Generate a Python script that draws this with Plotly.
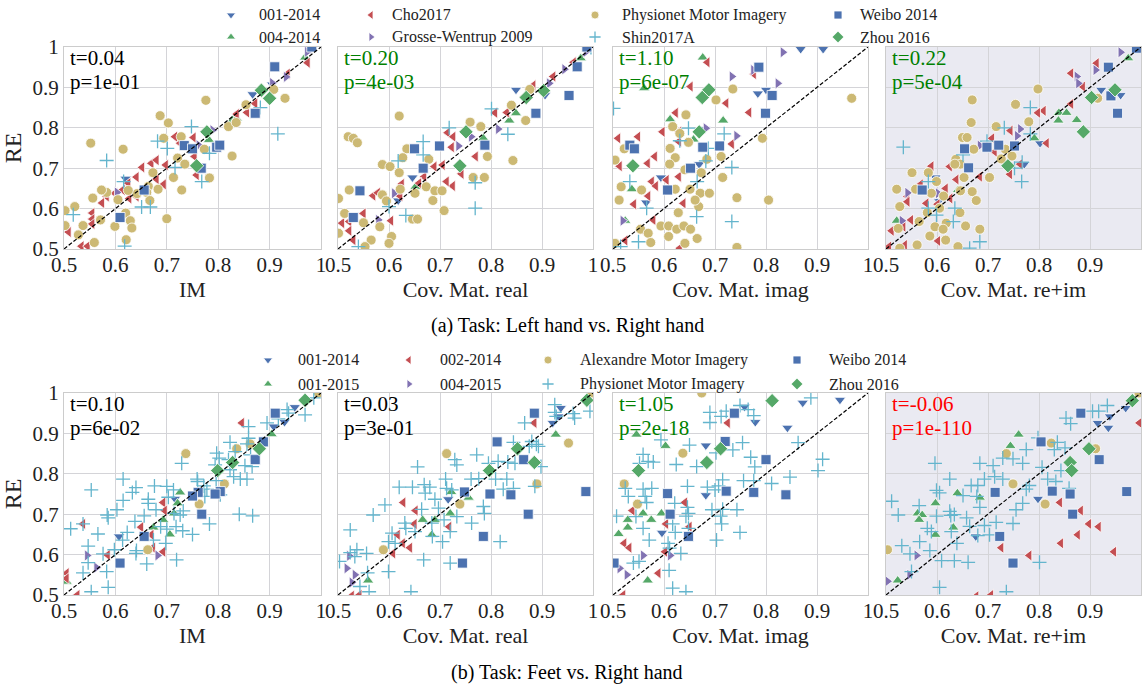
import plotly.graph_objects as go

W, H = 1143, 686
FONT = "Liberation Serif"

# ---------------- names / labels ----------------
TOP_NAMES = ["001-2014", "004-2014", "Cho2017", "Grosse-Wentrup 2009",
             "Physionet Motor Imagery", "Shin2017A", "Weibo 2014", "Zhou 2016"]
BOT_NAMES = ["001-2014", "001-2015", "002-2014", "004-2015",
             "Alexandre Motor Imagery", "Physionet Motor Imagery", "Weibo 2014", "Zhou 2016"]
X_TITLES = ["IM", "Cov. Mat. real", "Cov. Mat. imag", "Cov. Mat. re+im"]
TICK_VALS = [0.5, 0.6, 0.7, 0.8, 0.9, 1.0]
TICK_TEXT = ["0.5", "0.6", "0.7", "0.8", "0.9", "1"]
TOP_STATS = [("t=0.04", "p=1e-01", "black"), ("t=0.20", "p=4e-03", "green"),
             ("t=1.10", "p=6e-07", "green"), ("t=0.22", "p=5e-04", "green")]
BOT_STATS = [("t=0.10", "p=6e-02", "black"), ("t=0.03", "p=3e-01", "black"),
             ("t=1.05", "p=2e-18", "green"), ("t=-0.06", "p=1e-110", "red")]
CAPTIONS = ["(a) Task: Left hand vs. Right hand", "(b) Task: Feet vs. Right hand"]

# ---------------- data: (x, RE) pairs per dataset ----------------
LR_IM = {
    "001-2014": [(0.867, 0.883), (0.905, 0.907), (0.620, 0.674), (0.980, 0.995), (0.795, 0.760)],
    "004-2014": [(0.782, 0.770), (0.828, 0.819), (0.836, 0.823), (0.969, 0.974)],
    "Cho2017": [(0.652, 0.702), (0.670, 0.712), (0.698, 0.708), (0.680, 0.673), (0.694, 0.660),
                (0.641, 0.678), (0.625, 0.663), (0.614, 0.646), (0.627, 0.625), (0.641, 0.630),
                (0.599, 0.638), (0.583, 0.630), (0.574, 0.614), (0.555, 0.589), (0.555, 0.574),
                (0.555, 0.562), (0.509, 0.542), (0.534, 0.507), (0.546, 0.507), (0.716, 0.778),
                (0.752, 0.776), (0.754, 0.729), (0.758, 0.683), (0.872, 0.860), (0.856, 0.838),
                (0.836, 0.834), (0.935, 0.934), (0.974, 0.961), (0.726, 0.762), (0.680, 0.720)],
    "Grosse-Wentrup 2009": [(0.973, 0.988), (0.932, 0.926), (0.905, 0.911), (0.789, 0.794),
                            (0.603, 0.640), (0.762, 0.757)],
    "Physionet Motor Imagery": [
        (0.552, 0.762), (0.615, 0.747), (0.776, 0.868), (0.687, 0.830), (0.703, 0.812),
        (0.694, 0.774), (0.728, 0.778), (0.721, 0.725), (0.713, 0.677), (0.673, 0.689),
        (0.735, 0.710), (0.773, 0.747), (0.783, 0.676), (0.827, 0.730), (0.820, 0.803),
        (0.835, 0.813), (0.854, 0.857), (0.908, 0.895), (0.930, 0.873), (0.664, 0.655),
        (0.683, 0.648), (0.729, 0.646), (0.661, 0.640), (0.642, 0.637), (0.625, 0.645),
        (0.667, 0.620), (0.605, 0.622), (0.583, 0.640), (0.573, 0.646), (0.556, 0.626),
        (0.521, 0.605), (0.502, 0.595), (0.620, 0.589), (0.629, 0.570), (0.632, 0.552),
        (0.599, 0.556), (0.571, 0.572), (0.537, 0.558), (0.502, 0.558), (0.559, 0.516),
        (0.621, 0.523), (0.700, 0.575), (0.528, 0.535)],
    "Shin2017A": [(0.583, 0.719), (0.682, 0.767), (0.701, 0.749), (0.748, 0.803), (0.716, 0.702),
                  (0.783, 0.737), (0.768, 0.667), (0.916, 0.785), (0.882, 0.850), (0.651, 0.604),
                  (0.668, 0.604), (0.518, 0.585), (0.616, 0.667), (0.618, 0.507)],
    "Weibo 2014": [(0.910, 0.951), (0.872, 0.836), (0.734, 0.756), (0.750, 0.748), (0.797, 0.752),
                   (0.803, 0.757), (0.767, 0.700), (0.656, 0.646), (0.609, 0.578), (0.982, 1.0)],
    "Zhou 2016": [(0.884, 0.893), (0.900, 0.873), (0.778, 0.790), (0.758, 0.706)],
}

LR_REAL = {
    "001-2014": [(0.849, 0.894), (0.646, 0.677), (0.989, 0.999), (0.906, 0.881), (0.618, 0.620)],
    "004-2014": [(0.976, 0.972), (0.836, 0.818), (0.849, 0.836), (0.785, 0.774), (0.652, 0.654)],
    "Cho2017": [(0.715, 0.788), (0.726, 0.778), (0.723, 0.752), (0.808, 0.837), (0.831, 0.838),
                (0.770, 0.729), (0.689, 0.704), (0.705, 0.708), (0.742, 0.686), (0.725, 0.656),
                (0.713, 0.667), (0.669, 0.679), (0.659, 0.663), (0.625, 0.661), (0.622, 0.631),
                (0.569, 0.632), (0.578, 0.639), (0.604, 0.570), (0.550, 0.588), (0.522, 0.568),
                (0.522, 0.545), (0.530, 0.522), (0.865, 0.877), (0.922, 0.927), (0.962, 0.962),
                (0.883, 0.905), (0.508, 0.564)],
    "Grosse-Wentrup 2009": [(0.986, 0.988), (0.944, 0.945), (0.914, 0.910), (0.814, 0.797),
                            (0.736, 0.755), (0.761, 0.778), (0.610, 0.638), (0.579, 0.572)],
    "Physionet Motor Imagery": [
        (0.620, 0.829), (0.520, 0.778), (0.530, 0.774), (0.538, 0.763), (0.635, 0.748),
        (0.627, 0.726), (0.587, 0.709), (0.602, 0.704), (0.620, 0.689), (0.678, 0.722),
        (0.759, 0.814), (0.780, 0.803), (0.793, 0.729), (0.843, 0.719), (0.787, 0.677),
        (0.765, 0.677), (0.673, 0.654), (0.690, 0.644), (0.704, 0.644), (0.686, 0.620),
        (0.708, 0.595), (0.651, 0.638), (0.622, 0.648), (0.587, 0.634), (0.595, 0.619),
        (0.522, 0.646), (0.501, 0.625), (0.513, 0.588), (0.550, 0.565), (0.582, 0.555),
        (0.605, 0.531), (0.600, 0.514), (0.565, 0.522), (0.553, 0.506), (0.501, 0.539),
        (0.646, 0.574), (0.656, 0.574), (0.840, 0.856), (0.876, 0.895), (0.868, 0.818)],
    "Shin2017A": [(0.996, 0.999), (0.801, 0.847), (0.718, 0.800), (0.667, 0.766), (0.667, 0.733),
                  (0.833, 0.784), (0.618, 0.718), (0.769, 0.664), (0.769, 0.601), (0.633, 0.583),
                  (0.600, 0.605), (0.540, 0.506)],
    "Weibo 2014": [(0.969, 0.951), (0.953, 0.880), (0.888, 0.836), (0.788, 0.757), (0.699, 0.755),
                   (0.650, 0.748), (0.667, 0.700), (0.543, 0.644), (0.530, 0.578), (0.988, 1.0)],
    "Zhou 2016": [(0.903, 0.892), (0.869, 0.875), (0.751, 0.790), (0.739, 0.706)],
}

LR_IMAG = {
    "001-2014": [(0.868, 0.995), (0.912, 0.995), (0.800, 0.894), (0.784, 0.885), (0.669, 0.710),
                 (0.594, 0.677), (0.565, 0.615), (0.680, 0.797)],
    "004-2014": [(0.676, 0.974), (0.561, 0.898), (0.716, 0.818), (0.612, 0.821), (0.537, 0.648),
                 (0.524, 0.570), (0.658, 0.771)],
    "Cho2017": [(0.685, 0.962), (0.652, 0.902), (0.722, 0.861), (0.767, 0.838), (0.776, 0.933),
                (0.623, 0.837), (0.597, 0.790), (0.629, 0.790), (0.510, 0.774), (0.549, 0.778),
                (0.629, 0.766), (0.711, 0.753), (0.733, 0.760), (0.582, 0.729), (0.568, 0.712),
                (0.513, 0.705), (0.629, 0.679), (0.605, 0.671), (0.576, 0.667), (0.584, 0.656),
                (0.569, 0.631), (0.541, 0.611), (0.638, 0.613), (0.579, 0.572), (0.555, 0.549),
                (0.524, 0.521), (0.631, 0.502)],
    "Grosse-Wentrup 2009": [(0.833, 0.987), (0.733, 0.927), (0.823, 0.910), (0.742, 0.780),
                            (0.682, 0.799), (0.519, 0.570), (0.775, 0.943)],
    "Physionet Motor Imagery": [
        (0.735, 0.896), (0.702, 0.869), (0.968, 0.873), (0.643, 0.832), (0.617, 0.803),
        (0.631, 0.786), (0.648, 0.764), (0.793, 0.774), (0.612, 0.749), (0.522, 0.748),
        (0.622, 0.726), (0.611, 0.710), (0.684, 0.722), (0.712, 0.729), (0.673, 0.689),
        (0.641, 0.696), (0.715, 0.677), (0.504, 0.720), (0.516, 0.654), (0.556, 0.646),
        (0.622, 0.648), (0.651, 0.648), (0.671, 0.638), (0.689, 0.638), (0.512, 0.621),
        (0.743, 0.627), (0.805, 0.621), (0.668, 0.605), (0.628, 0.590), (0.594, 0.557),
        (0.609, 0.557), (0.625, 0.549), (0.639, 0.557), (0.652, 0.549), (0.554, 0.549),
        (0.569, 0.539), (0.609, 0.531), (0.574, 0.516), (0.665, 0.526), (0.641, 0.514),
        (0.504, 0.514), (0.743, 0.504), (0.661, 0.621)],
    "Shin2017A": [(0.501, 0.848), (0.648, 0.799), (0.631, 0.768), (0.718, 0.785), (0.682, 0.718),
                  (0.733, 0.702), (0.665, 0.667), (0.533, 0.667), (0.566, 0.601), (0.664, 0.580),
                  (0.733, 0.568), (0.550, 0.518), (0.515, 0.506), (0.687, 0.749)],
    "Weibo 2014": [(0.786, 0.950), (0.812, 0.880), (0.799, 0.836), (0.533, 0.757), (0.542, 0.748),
                   (0.676, 0.752), (0.709, 0.755), (0.652, 0.700), (0.607, 0.646)],
    "Zhou 2016": [(0.688, 0.894), (0.675, 0.875), (0.669, 0.790), (0.539, 0.706)],
}

LR_REIM = {
    "001-2014": [(0.922, 0.894), (0.960, 0.881), (0.802, 0.762), (0.771, 0.710), (0.597, 0.677),
                 (0.604, 0.619), (0.993, 0.999)],
    "004-2014": [(0.975, 0.972), (0.839, 0.837), (0.854, 0.837), (0.874, 0.819), (0.838, 0.818),
                 (0.791, 0.774), (0.521, 0.570), (0.641, 0.646)],
    "Cho2017": [(0.913, 0.960), (0.863, 0.935), (0.886, 0.902), (0.863, 0.859), (0.809, 0.842),
                (0.798, 0.837), (0.744, 0.793), (0.708, 0.774), (0.713, 0.741), (0.815, 0.762),
                (0.763, 0.710), (0.743, 0.685), (0.684, 0.679), (0.625, 0.704), (0.589, 0.705),
                (0.638, 0.672), (0.617, 0.650), (0.568, 0.660), (0.542, 0.630), (0.542, 0.617),
                (0.579, 0.613), (0.626, 0.625), (0.601, 0.611), (0.549, 0.572), (0.534, 0.555),
                (0.511, 0.545), (0.602, 0.520), (0.537, 0.510), (0.506, 0.506), (0.559, 0.510)],
    "Grosse-Wentrup 2009": [(0.960, 0.987), (0.911, 0.943), (0.874, 0.927), (0.877, 0.910),
                            (0.763, 0.797), (0.757, 0.780), (0.684, 0.756), (0.542, 0.639),
                            (0.531, 0.570), (0.602, 0.638)],
    "Physionet Motor Imagery": [
        (0.798, 0.896), (0.669, 0.869), (0.754, 0.858), (0.780, 0.815), (0.667, 0.813),
        (0.716, 0.803), (0.650, 0.776), (0.659, 0.776), (0.672, 0.747), (0.734, 0.747),
        (0.747, 0.730), (0.726, 0.723), (0.637, 0.722), (0.646, 0.710), (0.635, 0.710),
        (0.703, 0.677), (0.653, 0.677), (0.551, 0.689), (0.583, 0.689), (0.599, 0.667),
        (0.646, 0.644), (0.669, 0.642), (0.521, 0.648), (0.558, 0.648), (0.589, 0.638),
        (0.613, 0.631), (0.677, 0.620), (0.527, 0.605), (0.605, 0.601), (0.581, 0.590),
        (0.645, 0.590), (0.565, 0.568), (0.618, 0.564), (0.596, 0.555), (0.612, 0.549),
        (0.656, 0.557), (0.684, 0.549), (0.524, 0.551), (0.586, 0.532), (0.617, 0.522),
        (0.561, 0.510), (0.641, 0.506), (0.527, 0.502), (0.915, 0.873)],
    "Shin2017A": [(0.534, 0.752), (0.783, 0.850), (0.732, 0.800), (0.783, 0.785), (0.698, 0.767),
                  (0.651, 0.733), (0.767, 0.715), (0.752, 0.700), (0.766, 0.667), (0.583, 0.667),
                  (0.635, 0.601), (0.583, 0.601), (0.599, 0.584), (0.632, 0.568), (0.684, 0.518),
                  (0.664, 0.502)],
    "Weibo 2014": [(0.936, 0.950), (0.941, 0.879), (0.954, 0.836), (0.752, 0.755), (0.721, 0.757),
                   (0.698, 0.752), (0.654, 0.748), (0.662, 0.701), (0.571, 0.646), (0.991, 0.997)],
    "Zhou 2016": [(0.949, 0.894), (0.903, 0.875), (0.887, 0.790), (0.739, 0.706)],
}

FR_IM = {
    "001-2014": [(0.716, 0.738), (0.607, 0.645), (0.908, 0.917), (0.929, 0.928), (0.949, 0.965)],
    "001-2015": [(0.674, 0.667), (0.693, 0.686), (0.714, 0.702), (0.726, 0.754), (0.721, 0.727),
                 (0.706, 0.650), (0.904, 0.898), (0.505, 0.533), (0.799, 0.810)],
    "002-2014": [(0.846, 0.926), (0.693, 0.729), (0.696, 0.709), (0.650, 0.668), (0.670, 0.649),
                 (0.673, 0.617), (0.693, 0.607), (0.585, 0.599), (0.537, 0.676), (0.526, 0.500),
                 (0.505, 0.554), (0.505, 0.541)],
    "004-2015": [(0.545, 0.598), (0.563, 0.568), (0.682, 0.598)],
    "Alexandre Motor Imagery": [(0.737, 0.850), (0.836, 0.862), (0.862, 0.874), (0.812, 0.775),
                                (0.763, 0.725), (0.663, 0.612), (0.995, 1.0)],
    "Physionet Motor Imagery": [
        (0.513, 0.664), (0.553, 0.760), (0.537, 0.676), (0.547, 0.621), (0.547, 0.580),
        (0.537, 0.555), (0.553, 0.508), (0.566, 0.651), (0.576, 0.602), (0.584, 0.698),
        (0.586, 0.691), (0.583, 0.558), (0.586, 0.519), (0.598, 0.612), (0.603, 0.711),
        (0.615, 0.787), (0.615, 0.734), (0.623, 0.655), (0.614, 0.636), (0.633, 0.754),
        (0.640, 0.766), (0.638, 0.682), (0.641, 0.610), (0.640, 0.603), (0.656, 0.696),
        (0.664, 0.737), (0.664, 0.727), (0.661, 0.577), (0.676, 0.770), (0.674, 0.636),
        (0.688, 0.669), (0.700, 0.769), (0.703, 0.742), (0.700, 0.663), (0.698, 0.628),
        (0.713, 0.760), (0.718, 0.669), (0.719, 0.587), (0.726, 0.698), (0.732, 0.708),
        (0.729, 0.826), (0.731, 0.659), (0.750, 0.650), (0.759, 0.787), (0.760, 0.781),
        (0.778, 0.762), (0.783, 0.676), (0.794, 0.822), (0.797, 0.851), (0.802, 0.839),
        (0.796, 0.783), (0.820, 0.835), (0.823, 0.878), (0.830, 0.793), (0.833, 0.855),
        (0.843, 0.787), (0.841, 0.700), (0.859, 0.917), (0.859, 0.888), (0.856, 0.874),
        (0.852, 0.820), (0.863, 0.847), (0.856, 0.787), (0.867, 0.696), (0.866, 0.818),
        (0.895, 0.926), (0.917, 0.936), (0.934, 0.959), (0.937, 0.950), (0.969, 0.946),
        (0.986, 0.988), (0.772, 0.770), (0.774, 0.744), (0.804, 0.748), (0.823, 0.810),
        (0.679, 0.711), (0.714, 0.702)],
    "Weibo 2014": [(0.911, 0.950), (0.888, 0.879), (0.872, 0.835), (0.804, 0.756), (0.794, 0.750),
                   (0.761, 0.754), (0.750, 0.745), (0.768, 0.700), (0.656, 0.645), (0.609, 0.579)],
    "Zhou 2016": [(0.969, 0.982), (0.880, 0.862), (0.828, 0.828), (0.799, 0.808)],
}

FR_REAL = {
    "001-2014": [(0.937, 0.963), (0.932, 0.942), (0.921, 0.926), (0.716, 0.737)],
    "001-2015": [(0.927, 0.897), (0.756, 0.741), (0.722, 0.755), (0.720, 0.702), (0.666, 0.686),
                 (0.690, 0.686), (0.684, 0.649), (0.559, 0.536)],
    "002-2014": [(0.885, 0.926), (0.628, 0.729), (0.652, 0.709), (0.650, 0.676), (0.617, 0.649),
                 (0.627, 0.628), (0.641, 0.617), (0.608, 0.603), (0.718, 0.669), (0.527, 0.498),
                 (0.542, 0.500)],
    "004-2015": [(0.522, 0.597), (0.517, 0.566), (0.533, 0.550), (0.527, 0.531)],
    "Alexandre Motor Imagery": [(0.713, 0.850), (0.952, 0.876), (0.890, 0.775), (0.739, 0.725),
                                (0.589, 0.612), (0.997, 1.0)],
    "Physionet Motor Imagery": [
        (0.524, 0.661), (0.503, 0.583), (0.537, 0.612), (0.533, 0.595), (0.556, 0.603),
        (0.558, 0.555), (0.543, 0.521), (0.561, 0.508), (0.569, 0.698), (0.592, 0.723),
        (0.599, 0.632), (0.599, 0.558), (0.606, 0.653), (0.620, 0.767), (0.612, 0.628),
        (0.631, 0.678), (0.633, 0.665), (0.646, 0.767), (0.656, 0.817), (0.651, 0.657),
        (0.664, 0.712), (0.668, 0.587), (0.669, 0.773), (0.671, 0.752), (0.680, 0.767),
        (0.684, 0.678), (0.690, 0.737), (0.685, 0.645), (0.705, 0.632), (0.697, 0.715),
        (0.711, 0.787), (0.713, 0.764), (0.708, 0.686), (0.720, 0.657), (0.723, 0.760),
        (0.729, 0.835), (0.733, 0.822), (0.733, 0.694), (0.720, 0.579), (0.761, 0.787),
        (0.762, 0.678), (0.772, 0.847), (0.776, 0.788), (0.785, 0.719), (0.787, 0.702),
        (0.795, 0.826), (0.809, 0.787), (0.814, 0.831), (0.818, 0.632), (0.833, 0.829),
        (0.831, 0.787), (0.824, 0.762), (0.844, 0.764), (0.844, 0.878), (0.847, 0.826),
        (0.866, 0.926), (0.880, 0.880), (0.886, 0.769), (0.893, 0.868), (0.898, 0.818),
        (0.925, 0.971), (0.925, 0.952), (0.928, 0.942), (0.961, 0.949), (0.964, 0.938),
        (0.994, 0.955), (0.875, 0.868), (0.889, 0.873), (0.643, 0.508), (0.524, 0.605)],
    "Weibo 2014": [(0.885, 0.950), (0.812, 0.879), (0.864, 0.835), (0.748, 0.755), (0.798, 0.750),
                   (0.839, 0.748), (0.986, 0.756), (0.873, 0.700), (0.785, 0.645), (0.744, 0.579)],
    "Zhou 2016": [(0.988, 0.982), (0.852, 0.862), (0.885, 0.828), (0.797, 0.808)],
}

FR_IMAG = {
    "001-2014": [(0.872, 0.976), (0.945, 0.983), (0.758, 0.966), (0.779, 0.928), (0.842, 0.914),
                 (0.682, 0.870), (0.682, 0.747), (0.596, 0.654)],
    "001-2015": [(0.546, 0.897), (0.603, 0.869), (0.529, 0.686), (0.511, 0.651), (0.529, 0.667),
                 (0.559, 0.702), (0.575, 0.686), (0.595, 0.702), (0.568, 0.536)],
    "002-2014": [(0.725, 0.926), (0.641, 0.729), (0.538, 0.709), (0.650, 0.669), (0.604, 0.676),
                 (0.522, 0.628), (0.532, 0.617), (0.602, 0.607), (0.589, 0.554), (0.520, 0.500)],
    "004-2015": [(0.559, 0.598), (0.612, 0.598), (0.513, 0.566), (0.527, 0.550)],
    "Alexandre Motor Imagery": [(0.674, 1.0), (0.637, 0.851), (0.522, 0.775), (0.548, 0.725)],
    "Physionet Motor Imagery": [
        (0.690, 0.952), (0.722, 0.955), (0.712, 0.942), (0.690, 0.927), (0.749, 0.969),
        (0.765, 0.959), (0.776, 0.944), (0.888, 0.988), (0.594, 0.884), (0.650, 0.871),
        (0.754, 0.877), (0.735, 0.859), (0.702, 0.852), (0.559, 0.848), (0.569, 0.831),
        (0.579, 0.829), (0.624, 0.823), (0.664, 0.818), (0.552, 0.826), (0.770, 0.841),
        (0.778, 0.817), (0.863, 0.877), (0.911, 0.836), (0.902, 0.808), (0.847, 0.792),
        (0.756, 0.783), (0.776, 0.783), (0.811, 0.776), (0.715, 0.785), (0.707, 0.770),
        (0.685, 0.767), (0.700, 0.760), (0.646, 0.769), (0.559, 0.762), (0.576, 0.764),
        (0.524, 0.764), (0.530, 0.744), (0.563, 0.744), (0.566, 0.729), (0.621, 0.727),
        (0.646, 0.717), (0.648, 0.702), (0.643, 0.695), (0.694, 0.711), (0.715, 0.712),
        (0.743, 0.711), (0.711, 0.695), (0.713, 0.676), (0.749, 0.655), (0.703, 0.636),
        (0.507, 0.695), (0.545, 0.694), (0.559, 0.665), (0.571, 0.636), (0.617, 0.676),
        (0.622, 0.655), (0.608, 0.628), (0.611, 0.616), (0.633, 0.603), (0.540, 0.579),
        (0.551, 0.583), (0.610, 0.561), (0.617, 0.517), (0.643, 0.508), (0.648, 0.665)],
    "Weibo 2014": [(0.738, 0.950), (0.720, 0.880), (0.800, 0.835), (0.607, 0.751), (0.722, 0.757),
                   (0.776, 0.754), (0.839, 0.748), (0.612, 0.700), (0.648, 0.645), (0.502, 0.579)],
    "Zhou 2016": [(0.812, 0.981), (0.711, 0.862), (0.684, 0.828), (0.550, 0.808)],
}

FR_REIM = {
    "001-2014": [(0.970, 0.963), (0.939, 0.942), (0.915, 0.926), (0.936, 0.914), (0.798, 0.738),
                 (0.676, 0.645)],
    "001-2015": [(0.760, 0.897), (0.744, 0.869), (0.640, 0.752), (0.684, 0.741), (0.597, 0.727),
                 (0.562, 0.702), (0.571, 0.698), (0.565, 0.686), (0.632, 0.667), (0.597, 0.649),
                 (0.523, 0.536)],
    "002-2014": [(0.997, 0.926), (0.841, 0.729), (0.882, 0.709), (0.898, 0.676), (0.917, 0.669),
                 (0.876, 0.649), (0.843, 0.628), (0.947, 0.607), (0.781, 0.598), (0.726, 0.617),
                 (0.706, 0.500), (0.677, 0.497)],
    "004-2015": [(0.560, 0.598), (0.546, 0.550), (0.503, 0.534)],
    "Alexandre Motor Imagery": [(0.824, 0.876), (0.911, 0.862), (0.736, 0.850), (0.749, 0.775),
                                (0.812, 0.725), (0.503, 0.612), (0.996, 1.0)],
    "Physionet Motor Imagery": [
        (0.934, 0.969), (0.905, 0.955), (0.917, 0.955), (0.853, 0.938), (0.862, 0.924),
        (0.798, 0.889), (0.836, 0.878), (0.851, 0.864), (0.830, 0.860), (0.775, 0.860),
        (0.729, 0.839), (0.749, 0.837), (0.768, 0.826), (0.684, 0.826), (0.710, 0.820),
        (0.596, 0.826), (0.806, 0.816), (0.843, 0.808), (0.713, 0.793), (0.729, 0.787),
        (0.693, 0.787), (0.817, 0.787), (0.833, 0.781), (0.667, 0.771), (0.680, 0.771),
        (0.625, 0.787), (0.781, 0.771), (0.775, 0.762), (0.859, 0.764), (0.599, 0.759),
        (0.605, 0.753), (0.651, 0.746), (0.678, 0.744), (0.511, 0.732), (0.565, 0.721),
        (0.524, 0.698), (0.599, 0.695), (0.625, 0.707), (0.627, 0.697), (0.634, 0.699),
        (0.658, 0.691), (0.684, 0.717), (0.768, 0.727), (0.755, 0.711), (0.716, 0.680),
        (0.693, 0.672), (0.664, 0.670), (0.749, 0.677), (0.581, 0.665), (0.589, 0.657),
        (0.628, 0.657), (0.680, 0.647), (0.703, 0.649), (0.639, 0.628), (0.566, 0.632),
        (0.531, 0.622), (0.586, 0.610), (0.547, 0.602), (0.609, 0.585), (0.634, 0.585),
        (0.661, 0.581), (0.801, 0.581), (0.550, 0.558), (0.605, 0.519), (0.736, 0.508)],
    "Weibo 2014": [(0.882, 0.950), (0.804, 0.879), (0.918, 0.835), (0.714, 0.754), (0.826, 0.757),
                   (0.861, 0.750), (0.972, 0.756), (0.866, 0.700), (0.723, 0.645), (0.749, 0.579)],
    "Zhou 2016": [(0.983, 0.981), (0.898, 0.862), (0.861, 0.828), (0.864, 0.808)],
}

TOP_PANELS = [LR_IM, LR_REAL, LR_IMAG, LR_REIM]
BOT_PANELS = [FR_IM, FR_REAL, FR_IMAG, FR_REIM]

# ---------------- styles ----------------
BLUE, GREEN, RED, PURPLE, TAN, CYAN = "#4C72B0", "#55A868", "#C44E52", "#8172B2", "#CCB974", "#64B5CD"
STYLES = [("triangle-down", BLUE, 10), ("triangle-up", GREEN, 10), ("triangle-left", RED, 10),
          ("triangle-right", PURPLE, 10), ("circle", TAN, 10), ("cross-thin", CYAN, 10),
          ("square", BLUE, 10), ("diamond", GREEN, 11)]
STAT_COLORS = {"black": "#000000", "green": "#008000", "red": "#FF0000"}

# ---------------- geometry (pixels) ----------------
PANEL_X = [(64, 321), (338, 593), (613, 868), (886, 1141)]
ROW_Y = [(47, 249), (393, 595)]
LEG_COLS = [[(231, 257), (371, 390), (595, 620), (838, 858)],
            [(268, 296), (409, 438), (548, 578), (797, 827)]]
LEG_ROWS = [(15, 37), (360, 384)]
CAPTION_Y = [325, 672]

fig = go.Figure()
layout = dict(template="none", width=W, height=H, margin=dict(l=0, r=0, t=0, b=0, pad=0),
              autosize=False, paper_bgcolor="white", plot_bgcolor="rgba(0,0,0,0)",
              showlegend=False, hovermode=False,
              font=dict(family=FONT, color="#222222"))
annotations, shapes = [], []


def make_marker(style):
    sym, col, size = style
    if sym == "cross-thin":
        return dict(symbol=sym, size=size, color=col, line=dict(color=col, width=1.3))
    return dict(symbol=sym, size=size, color=col, line=dict(color="white", width=0.8))


def suffix(k):
    return "" if k == 1 else str(k)


for r, (panels, names, stats) in enumerate([(TOP_PANELS, TOP_NAMES, TOP_STATS),
                                            (BOT_PANELS, BOT_NAMES, BOT_STATS)]):
    y0, y1 = ROW_Y[r]
    for c in range(4):
        k = r * 4 + c + 1
        s = suffix(k)
        xa, ya = f"x{s}", f"y{s}"
        x0, x1 = PANEL_X[c]
        axcommon = dict(range=[0.5, 1.0], tickvals=TICK_VALS, ticktext=TICK_TEXT,
                        showgrid=True, gridcolor="#D4D4D8", gridwidth=1, automargin=False,
                        zeroline=False, showline=True, mirror=True, linecolor="#CCCCCC",
                        linewidth=1, ticks="", tickfont=dict(family=FONT, size=21, color="#222222"),
                        fixedrange=True)
        layout[f"xaxis{s}"] = dict(axcommon, domain=[x0 / W, x1 / W], anchor=ya,
                                   ticklabelstandoff=-3,
                                   title=dict(text=X_TITLES[c], standoff=0,
                                              font=dict(family=FONT, size=22, color="#222222")))
        layout[f"yaxis{s}"] = dict(axcommon, domain=[1 - y1 / H, 1 - y0 / H], anchor=xa,
                                   showticklabels=(c == 0),
                                   title=dict(text="RE" if c == 0 else "", standoff=6,
                                              font=dict(family=FONT, size=24, color="#222222")))
        if c == 3:
            shapes.append(dict(type="rect", xref=f"{xa} domain", yref=f"{ya} domain",
                               x0=0, x1=1, y0=0, y1=1, fillcolor="#EAEAF2",
                               line=dict(width=0), layer="below"))
        data = panels[c]
        for i, name in enumerate(names):
            pts = data[name]
            fig.add_trace(go.Scatter(x=[p[0] for p in pts], y=[p[1] for p in pts],
                                     mode="markers", marker=make_marker(STYLES[i]),
                                     name=name, xaxis=xa, yaxis=ya, cliponaxis=True))
        fig.add_trace(go.Scatter(x=[0.5, 1.0], y=[0.5, 1.0], mode="lines",
                                 line=dict(color="black", width=1.2, dash="4px,2px"),
                                 xaxis=xa, yaxis=ya, hoverinfo="skip"))
        t_txt, p_txt, col = stats[c]
        for txt, dy in [(t_txt, 11), (p_txt, 35)]:
            annotations.append(dict(text=txt, xref=f"{xa} domain", yref=f"{ya} domain",
                                    x=5 / (x1 - x0), y=1 - dy / (y1 - y0), xanchor="left",
                                    yanchor="middle", showarrow=False, borderpad=0,
                                    font=dict(family=FONT, size=21, color=STAT_COLORS[col])))

# ---------------- legends (overlay axis in pixel units) ----------------
layout["xaxis9"] = dict(domain=[0, 1], range=[0, W], visible=False, fixedrange=True,
                        anchor="y9", automargin=False)
layout["yaxis9"] = dict(domain=[0, 1], range=[H, 0], visible=False, fixedrange=True,
                        anchor="x9", automargin=False)
for r, names in enumerate([TOP_NAMES, BOT_NAMES]):
    for i, name in enumerate(names):
        col, row = i // 2, i % 2
        mx, tx = LEG_COLS[r][col]
        yy = LEG_ROWS[r][row]
        sym, colr, size = STYLES[i]
        mk = make_marker((sym, colr, size - 2))
        fig.add_trace(go.Scatter(x=[mx], y=[yy], mode="markers", marker=mk,
                                 xaxis="x9", yaxis="y9", hoverinfo="skip"))
        annotations.append(dict(text=name, xref="paper", yref="paper", x=tx / W, y=1 - yy / H,
                                xanchor="left", yanchor="middle", showarrow=False,
                                font=dict(family=FONT, size=16, color="#222222")))

for r in range(2):
    annotations.append(dict(text=CAPTIONS[r], xref="paper", yref="paper", x=567 / W,
                            y=1 - CAPTION_Y[r] / H, xanchor="center", yanchor="middle",
                            showarrow=False, font=dict(family=FONT, size=20, color="black")))

layout["annotations"] = annotations
layout["shapes"] = shapes
fig.update_layout(**layout)
fig.write_html("out.html", config={"displayModeBar": False, "staticPlot": True},
               post_script="document.body.style.margin='0';document.body.style.overflow='hidden';")
